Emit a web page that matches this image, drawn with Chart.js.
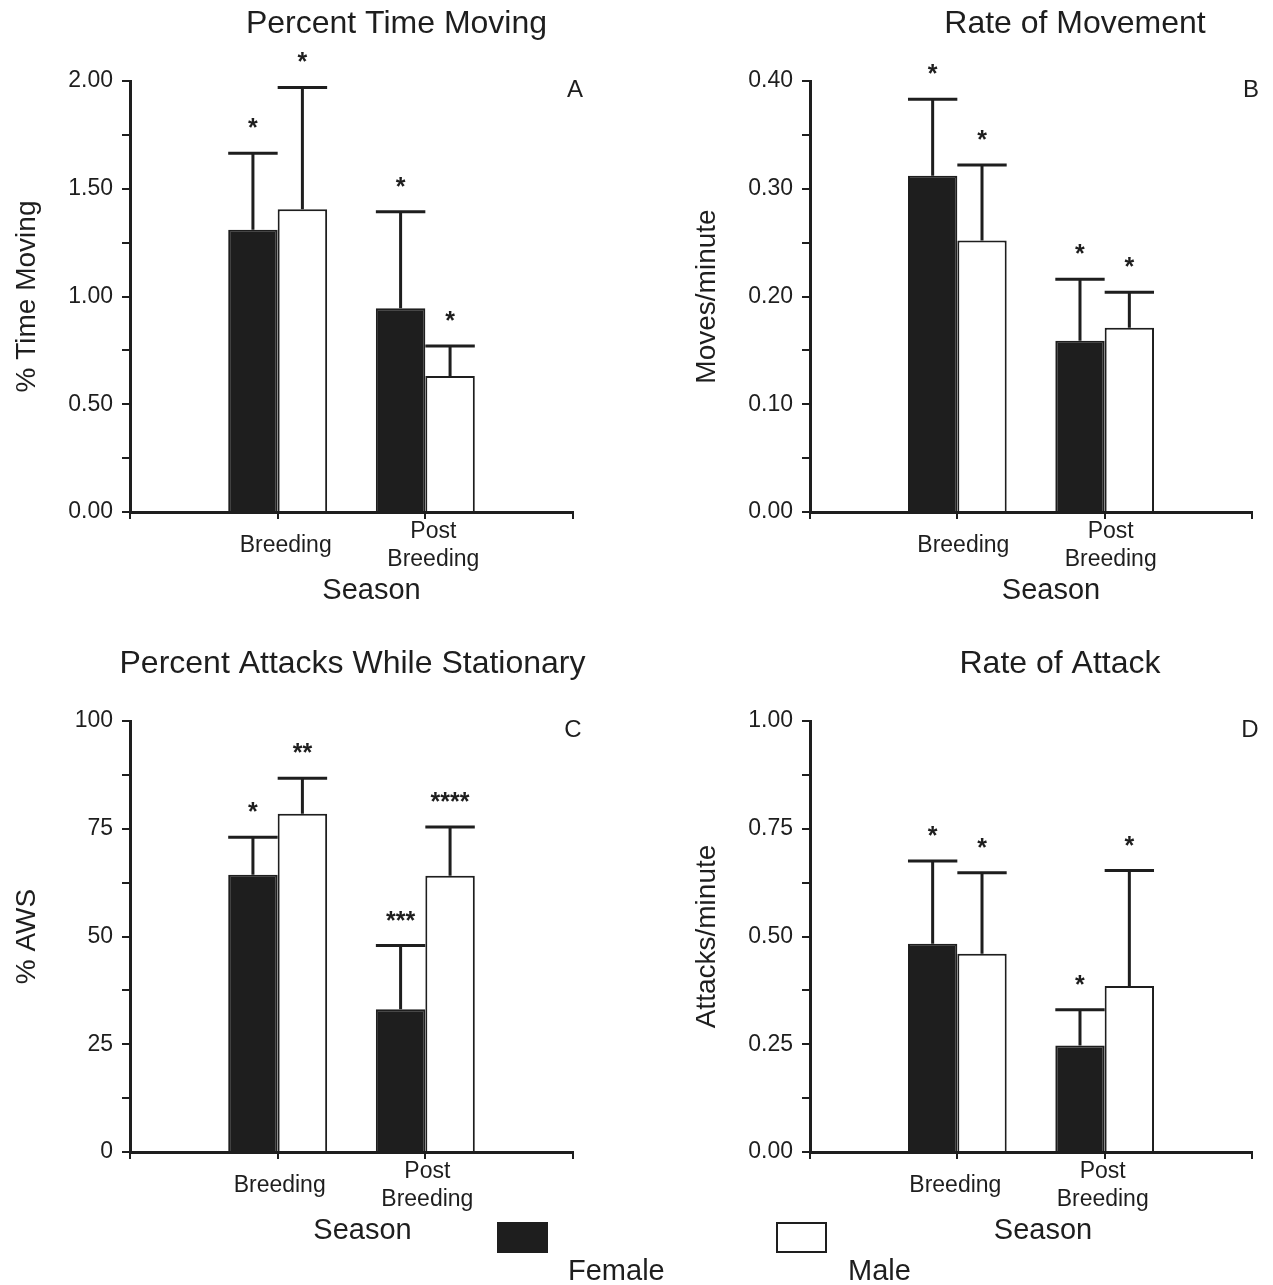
<!DOCTYPE html>
<html>
<head>
<meta charset="utf-8">
<script src="https://cdn.jsdelivr.net/npm/chart.js@4.4.1/dist/chart.umd.min.js"></script>
<style>
  html, body { margin:0; padding:0; background:#fff; }
  body { width:1273px; height:1285px; overflow:hidden; position:relative; font-family:'Liberation Sans', Arial, sans-serif; }
  canvas { position:absolute; }
  .lg-box { position:absolute; width:51px; height:31px; box-sizing:border-box; border:2px solid #1e1e1e; }
  .lg-text { position:absolute; font-size:29px; line-height:34px; color:#1e1e1e; white-space:nowrap; }
</style>
</head>
<body>
<canvas id="chartA" width="636" height="620" style="left:0px;top:0px"></canvas>
<canvas id="chartB" width="593" height="620" style="left:680px;top:0px"></canvas>
<canvas id="chartC" width="636" height="620" style="left:0px;top:640px"></canvas>
<canvas id="chartD" width="593" height="620" style="left:680px;top:640px"></canvas>

<div class="lg-box" style="left:497px;top:1222px;background:#1e1e1e"></div>
<div class="lg-text" style="left:568px;top:1253px">Female</div>
<div class="lg-box" style="left:776px;top:1222px;background:#fff"></div>
<div class="lg-text" style="left:848px;top:1253px">Male</div>

<script>
// ---------- data ----------
const categories = ['Breeding', ['Post', 'Breeding']];
const seriesNames = ['Female', 'Male'];
const xAxisTitle = 'Season';

// A: Percent Time Moving
const timeMovingFemale    = [1.31, 0.945];
const timeMovingMale      = [1.405, 0.631];
const timeMovingFemaleErr = [1.665, 1.393];
const timeMovingMaleErr   = [1.97, 0.77];
const timeMovingFemaleSig = ['*', '*'];
const timeMovingMaleSig   = ['*', '*'];
const timeMovingTicks     = ['0.00', '0.50', '1.00', '1.50', '2.00'];

// B: Rate of Movement
const moveRateFemale    = [0.312, 0.159];
const moveRateMale      = [0.252, 0.171];
const moveRateFemaleErr = [0.383, 0.216];
const moveRateMaleErr   = [0.322, 0.204];
const moveRateFemaleSig = ['*', '*'];
const moveRateMaleSig   = ['*', '*'];
const moveRateTicks     = ['0.00', '0.10', '0.20', '0.30', '0.40'];

// C: Percent Attacks While Stationary
const awsFemale    = [64.3, 33.1];
const awsMale      = [78.5, 64.1];
const awsFemaleErr = [73.0, 47.9];
const awsMaleErr   = [86.7, 75.4];
const awsFemaleSig = ['*', '***'];
const awsMaleSig   = ['**', '****'];
const awsTicks     = ['0', '25', '50', '75', '100'];

// D: Rate of Attack
const attackRateFemale    = [0.483, 0.247];
const attackRateMale      = [0.46, 0.385];
const attackRateFemaleErr = [0.675, 0.33];
const attackRateMaleErr   = [0.648, 0.653];
const attackRateFemaleSig = ['*', '*'];
const attackRateMaleSig   = ['*', '*'];
const attackRateTicks     = ['0.00', '0.25', '0.50', '0.75', '1.00'];

// ---------- styling ----------
const INK = '#1e1e1e';
const FAMILY = "'Liberation Sans', Arial, Helvetica, sans-serif";
Chart.defaults.font.family = FAMILY;
Chart.defaults.color = INK;

// pad categories with empty slots on both ends (axis spans 0..3)
const pad = arr => [null, ...arr, null];
const paddedLabels = ['', ...categories, ''];

// error bars + significance stars + panel letter
const decorPlugin = {
  id: 'decor',
  afterDatasetsDraw(chart) {
    const ctx = chart.ctx;
    const ys = chart.scales.y;
    chart.data.datasets.forEach((ds, di) => {
      const meta = chart.getDatasetMeta(di);
      meta.data.forEach((bar, i) => {
        const e = ds.errTop[i];
        if (e == null) return;
        const top = ys.getPixelForValue(e);
        const w = bar.width;
        ctx.save();
        ctx.strokeStyle = INK;
        ctx.lineWidth = 3;
        ctx.beginPath();
        ctx.moveTo(bar.x, bar.y);
        ctx.lineTo(bar.x, top);
        ctx.moveTo(bar.x - w / 2, top);
        ctx.lineTo(bar.x + w / 2, top);
        ctx.stroke();
        ctx.fillStyle = INK;
        ctx.font = 'bold 25px ' + FAMILY;
        ctx.textAlign = 'center';
        ctx.textBaseline = 'alphabetic';
        ctx.fillText(ds.sig[i], bar.x, top - 17);
        ctx.restore();
      });
    });
  },
  afterDraw(chart, args, opts) {
    const ctx = chart.ctx;
    const ca = chart.chartArea;
    ctx.save();
    ctx.fillStyle = INK;
    ctx.font = '24px ' + FAMILY;
    ctx.textAlign = 'center';
    ctx.textBaseline = 'middle';
    ctx.fillText(opts.letter, ca.right + opts.letterDx, ca.top + 9);
    ctx.restore();
  },
  afterLayout(chart, args, opts) {
    const t = chart.titleBlock;
    if (t && !t._shifted) { t.left += opts.titleDx; t.right += opts.titleDx; t._shifted = true; }
    const sx = chart.scales.x;
    if (sx && !sx._wrapTitle) {
      const orig = sx.drawTitle;
      const dx = opts.xTitleDx;
      sx.drawTitle = function () {
        this.left += dx; this.right += dx;
        orig.call(this);
        this.left -= dx; this.right -= dx;
      };
      sx._wrapTitle = true;
    }
  }
};

function makePanel(id, p) {
  const min = parseFloat(p.ticks[0]);
  const max = parseFloat(p.ticks[p.ticks.length - 1]);
  return new Chart(document.getElementById(id), {
    type: 'bar',
    data: {
      labels: paddedLabels,
      datasets: [
        { label: seriesNames[0], data: pad(p.female), errTop: pad(p.femaleErr), sig: pad(p.femaleSig),
          backgroundColor: INK, borderColor: INK, borderWidth: 2, borderSkipped: 'start' },
        { label: seriesNames[1], data: pad(p.male), errTop: pad(p.maleErr), sig: pad(p.maleSig),
          backgroundColor: '#ffffff', borderColor: INK, borderWidth: 2, borderSkipped: 'start' }
      ]
    },
    options: {
      responsive: false,
      animation: false,
      devicePixelRatio: 1,
      categoryPercentage: 0.67,
      barPercentage: 1.0,
      layout: { padding: { left: 0, right: p.padRight, top: 0, bottom: 12 } },
      plugins: {
        legend: { display: false },
        tooltip: { enabled: false },
        title: {
          display: true, text: p.title, color: INK,
          font: { size: 32, weight: 'normal' },
          padding: { top: 5, bottom: 37.6 }
        },
        decor: { letter: p.letter, letterDx: p.letterDx, titleDx: p.titleDx, xTitleDx: p.xTitleDx }
      },
      scales: {
        x: {
          type: 'category',
          offset: false,
          grid: { offset: false, drawOnChartArea: false, drawTicks: true, tickLength: 7, color: INK, lineWidth: 2 },
          border: { display: true, color: INK, width: 3, z: 1 },
          ticks: { autoSkip: false, maxRotation: 0, minRotation: 0, crossAlign: 'center',
                   font: { size: 23 }, color: INK, padding: 13, labelOffset: p.labelDx },
          title: { display: true, text: xAxisTitle, color: INK, font: { size: 29 }, padding: { top: 0, bottom: 0 } },
          afterFit: s => { s.height = 96; }
        },
        y: {
          min: min, max: max,
          grid: { drawOnChartArea: false, drawTicks: true, tickLength: 8, color: INK, lineWidth: 2 },
          border: { display: true, color: INK, width: 3, z: 1 },
          ticks: {
            stepSize: (max - min) / 8,
            font: { size: 23 }, color: INK, padding: 9,
            callback: v => {
              const lab = p.ticks.find(t => Math.abs(parseFloat(t) - v) < 1e-9);
              return lab === undefined ? '' : lab;
            }
          },
          title: { display: true, text: p.yTitle, color: INK, font: { size: 28 }, padding: { top: 10, bottom: 0 } },
          afterFit: s => { s.width = 130; }
        }
      }
    },
    plugins: [decorPlugin]
  });
}

makePanel('chartA', {
  title: 'Percent Time Moving', yTitle: '% Time Moving', letter: 'A',
  female: timeMovingFemale, male: timeMovingMale,
  femaleErr: timeMovingFemaleErr, maleErr: timeMovingMaleErr,
  femaleSig: timeMovingFemaleSig, maleSig: timeMovingMaleSig,
  ticks: timeMovingTicks,
  padRight: 63, titleDx: 110, xTitleDx: 20, letterDx: 2, labelDx: 8
});
makePanel('chartB', {
  title: 'Rate of Movement', yTitle: 'Moves/minute', letter: 'B',
  female: moveRateFemale, male: moveRateMale,
  femaleErr: moveRateFemaleErr, maleErr: moveRateMaleErr,
  femaleSig: moveRateFemaleSig, maleSig: moveRateMaleSig,
  ticks: moveRateTicks,
  padRight: 21, titleDx: 109, xTitleDx: 20, letterDx: -1, labelDx: 6
});
makePanel('chartC', {
  title: 'Percent Attacks While Stationary', yTitle: '% AWS', letter: 'C',
  female: awsFemale, male: awsMale,
  femaleErr: awsFemaleErr, maleErr: awsMaleErr,
  femaleSig: awsFemaleSig, maleSig: awsMaleSig,
  ticks: awsTicks,
  padRight: 63, titleDx: 66, xTitleDx: 11, letterDx: 0, labelDx: 2
});
makePanel('chartD', {
  title: 'Rate of Attack', yTitle: 'Attacks/minute', letter: 'D',
  female: attackRateFemale, male: attackRateMale,
  femaleErr: attackRateFemaleErr, maleErr: attackRateMaleErr,
  femaleSig: attackRateFemaleSig, maleSig: attackRateMaleSig,
  ticks: attackRateTicks,
  padRight: 21, titleDx: 94, xTitleDx: 12, letterDx: -2, labelDx: -2
});
</script>
</body>
</html>
